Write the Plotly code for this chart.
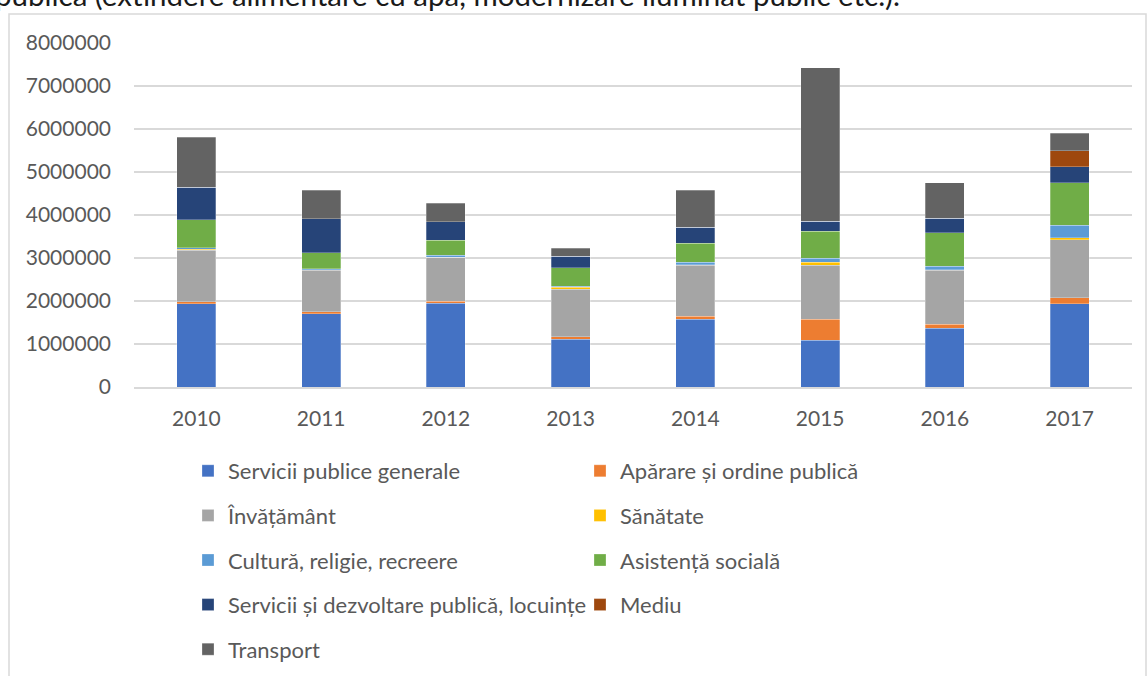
import plotly.graph_objects as go

# Categories (years)
years = ["2010", "2011", "2012", "2013", "2014", "2015", "2016", "2017"]

# Expenditure by function (lei)
servicii_publice = [1940000, 1700000, 1950000, 1115000, 1580000, 1093000, 1365000, 1938000]
aparare = [47000, 54000, 47000, 54000, 63000, 481000, 100000, 139000]
invatamant = [1195000, 963000, 1020000, 1110000, 1186000, 1256000, 1255000, 1349000]
sanatate = [20000, 10000, 5000, 40000, 15000, 70000, 5000, 47000]
cultura = [33000, 20000, 43000, 29000, 62000, 93000, 78000, 287000]
asistenta = [651000, 372000, 349000, 431000, 442000, 635000, 783000, 992000]
servicii_dezv = [760000, 799000, 426000, 260000, 365000, 232000, 334000, 372000]
mediu = [0, 0, 0, 0, 0, 0, 0, 372000]
transport = [1163000, 659000, 434000, 185000, 860000, 3566000, 829000, 411000]

series = [
    ("Servicii publice generale", servicii_publice, "#4472C4", "legend"),
    ("Apărare și ordine publică", aparare, "#ED7D31", "legend2"),
    ("Învățământ", invatamant, "#A5A5A5", "legend"),
    ("Sănătate", sanatate, "#FFC000", "legend2"),
    ("Cultură, religie, recreere", cultura, "#5B9BD5", "legend"),
    ("Asistență socială", asistenta, "#70AD47", "legend2"),
    ("Servicii și dezvoltare publică, locuințe", servicii_dezv, "#264478", "legend"),
    ("Mediu", mediu, "#9E480E", "legend2"),
    ("Transport", transport, "#636363", "legend"),
]

FONT = "Lato"
TXT = "#595959"

# Plot area geometry in pixels
W, H = 1147, 676
ML, MR, MT, MB = 134, 15, 43, 289
PW = W - ML - MR
PH = H - MT - MB


def px_x(x):
    return (x - ML) / PW


def px_y(y):
    return (H - MB - y) / PH


fig = go.Figure()
for name, vals, color, leg in series:
    fig.add_trace(go.Bar(
        x=years, y=vals, name=name,
        marker=dict(color=color, line=dict(width=0.6, color="rgba(255,255,255,0.45)")),
        legend=leg, legendgroup=name,
    ))

legend_common = dict(
    orientation="v", traceorder="grouped", tracegroupgap=13,
    font=dict(family=FONT, size=22, color=TXT),
    bgcolor="rgba(0,0,0,0)", xanchor="left", yanchor="top",
    itemclick=False, itemdoubleclick=False,
)

fig.update_layout(
    width=W, height=H,
    margin=dict(l=ML, r=MR, t=MT, b=MB, autoexpand=False),
    paper_bgcolor="white", plot_bgcolor="white",
    barmode="stack", bargap=0.687,
    showlegend=True,
    legend=dict(x=px_x(188), y=px_y(450), **legend_common),
    legend2=dict(x=px_x(580), y=px_y(450), **legend_common),
    xaxis=dict(
        range=[-0.5, 7.5], showgrid=False, ticks="",
        showline=True, linecolor="#d9d9d9", linewidth=1.5,
        tickfont=dict(family=FONT, size=21, color=TXT),
        ticklabelstandoff=12,
    ),
    yaxis=dict(
        range=[0, 8000000], dtick=1000000, tickformat="d",
        showgrid=True, gridcolor="#d9d9d9", gridwidth=1.5,
        zeroline=False, showline=False, ticks="",
        tickfont=dict(family=FONT, size=21, color=TXT),
        ticklabelstandoff=22,
    ),
    shapes=[
        # chart area frame
        dict(type="rect", xref="paper", yref="paper",
             x0=px_x(9), x1=px_x(1146), y0=px_y(700), y1=px_y(14),
             line=dict(color="#d9d9d9", width=1.5), fillcolor="rgba(0,0,0,0)",
             layer="below"),
    ],
    annotations=[
        dict(text="publică (extindere alimentare cu apă, modernizare iluminat public etc.).",
             xref="paper", yref="paper", x=px_x(902), y=px_y(14),
             xanchor="right", yanchor="bottom", showarrow=False,
             font=dict(family=FONT, size=29.5, color="#1a1a1a")),
    ],
)

fig.write_html("out.html")
